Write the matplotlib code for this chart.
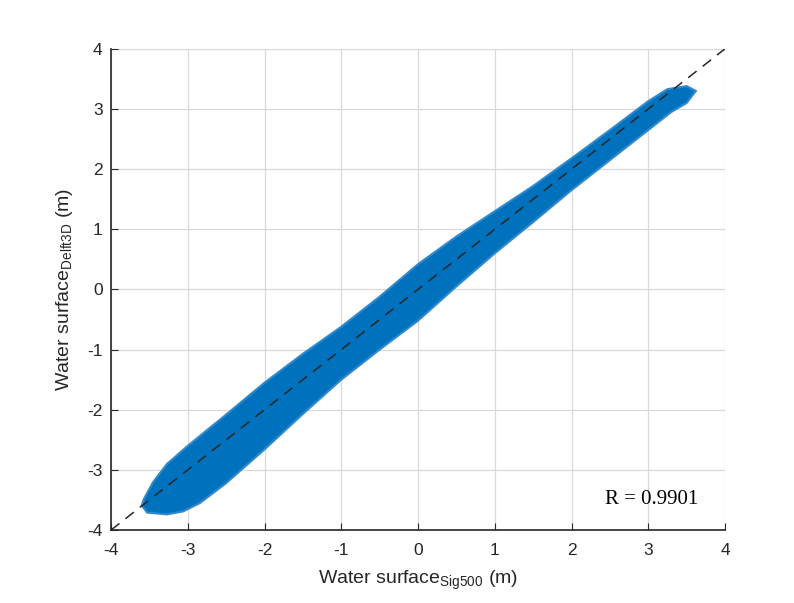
import matplotlib.pyplot as plt
import numpy as np

plt.rcParams['font.family'] = ['Liberation Sans', 'DejaVu Sans']
plt.rcParams['mathtext.fontset'] = 'custom'
plt.rcParams['mathtext.rm'] = 'Liberation Sans'
plt.rcParams['axes.unicode_minus'] = False

# envelope of the scatter cloud (x, y in m)
upper_x = [-3.60, -3.57, -3.45, -3.27, -3.00, -2.50, -2.00, -1.50, -1.00, -0.50,
           0.00, 0.50, 1.00, 1.50, 2.00, 2.50, 3.00, 3.25, 3.50, 3.62]
upper_y = [-3.59, -3.48, -3.20, -2.90, -2.60, -2.08, -1.55, -1.07, -0.62, -0.12,
           0.42, 0.88, 1.30, 1.72, 2.18, 2.65, 3.13, 3.33, 3.38, 3.30]
lower_x = [-3.60, -3.53, -3.27, -3.06, -2.84, -2.50, -2.00, -1.50, -1.00, -0.50,
           0.00, 0.50, 1.00, 1.50, 2.00, 2.50, 3.00, 3.30, 3.50, 3.62]
lower_y = [-3.59, -3.71, -3.74, -3.69, -3.55, -3.22, -2.66, -2.07, -1.50, -1.00,
           -0.52, 0.05, 0.60, 1.12, 1.65, 2.15, 2.65, 2.95, 3.10, 3.30]

ticks = [-4, -3, -2, -1, 0, 1, 2, 3, 4]
r_value = 0.9901

fig = plt.figure(figsize=(7.94, 6.03), dpi=100)
ax = fig.add_axes([0.1398, 0.121, 0.7733, 0.798])

poly_x = upper_x + lower_x[::-1]
poly_y = upper_y + lower_y[::-1]
ax.fill(poly_x, poly_y, color='#0072BD', lw=1.5, ec='#3089cc', zorder=2)

ax.plot([-4, 4], [-4, 4], color='#262626', ls=(0, (7, 5)), lw=1.1, zorder=3)

ax.set_xlim(-4, 4)
ax.set_ylim(-4, 4)
ax.set_xticks(ticks)
ax.set_yticks(ticks)
ax.grid(True, color='#d9d9d9', lw=0.9)
ax.set_axisbelow(True)
for s in ['top', 'right']:
    ax.spines[s].set_visible(False)
for s in ['left', 'bottom']:
    ax.spines[s].set_color('#262626')
    ax.spines[s].set_linewidth(1.2)
ax.tick_params(direction='in', length=5, colors='#262626', labelsize=12.5)
ax.tick_params(axis='x', pad=9)
ax.tick_params(axis='y', pad=6)

ax.set_xlabel(r'Water surface$_{\mathrm{Sig500}}$ (m)', fontsize=14, color='#262626', labelpad=8)
ax.set_ylabel(r'Water surface$_{\mathrm{Delft3D}}$ (m)', fontsize=14, color='#262626', labelpad=9)

ax.text(2.43, -3.5, f'R = {r_value:.4f}', family='Liberation Serif', fontsize=15,
        ha='left', va='center', color='black')

fig.savefig('out.png', dpi=100)
